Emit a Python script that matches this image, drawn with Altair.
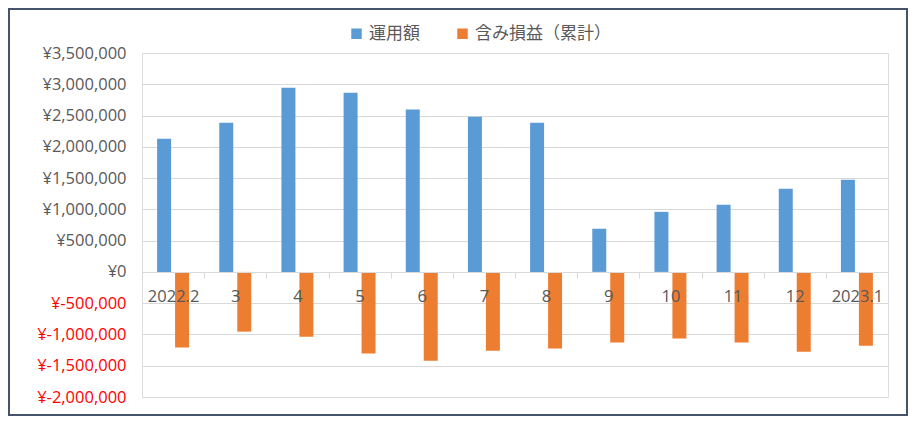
import altair as alt
import pandas as pd

categories = ["2022.2", "3", "4", "5", "6", "7", "8", "9", "10", "11", "12", "2023.1"]
series_names = ["運用額", "含み損益（累計）"]
unyou = [2130000, 2385000, 2945000, 2865000, 2595000, 2480000, 2385000, 690000, 960000, 1075000, 1330000, 1475000]
fukumi = [-1210000, -955000, -1035000, -1305000, -1420000, -1260000, -1225000, -1130000, -1065000, -1130000, -1275000, -1180000]
y_ticks = [-2000000, -1500000, -1000000, -500000, 0, 500000, 1000000, 1500000, 2000000, 2500000, 3000000, 3500000]
colors = ["#5B9BD5", "#ED7D31"]

rows = []
for c, a, b in zip(categories, unyou, fukumi):
    rows.append({"month": c, "series": series_names[0], "value": a})
    rows.append({"month": c, "series": series_names[1], "value": b})
df = pd.DataFrame(rows)

W, H = 746, 344
PL, PT, PR, PB = 134, 45, 20, 19

bars = alt.Chart(df).mark_bar().encode(
    x=alt.X("month:N", sort=categories,
            scale=alt.Scale(paddingInner=0, paddingOuter=0),
            axis=alt.Axis(title=None, labelAngle=0, tickBand="extent", offset=-125,
                          tickSize=6, tickColor="#d9d9d9", domainColor="#d9d9d9",
                          labelColor="#595959", labelFontSize=16.5, labelFont="Open Sans",
                          labelPadding=10, grid=False, zindex=1)),
    xOffset=alt.XOffset("series:N", sort=series_names,
                        scale=alt.Scale(paddingInner=0.222, paddingOuter=0.84)),
    y=alt.Y("value:Q",
            scale=alt.Scale(domain=[-2000000, 3500000], nice=False, zero=True),
            axis=alt.Axis(title=None, values=y_ticks, domain=False, ticks=False, tickSize=0,
                          labelPadding=16, labelFontSize=16.5, labelFont="Open Sans",
                          labelColor=alt.expr("datum.value < 0 ? '#FF0000' : '#595959'"),
                          labelExpr="datum.value < 0 ? '¥-' + format(-datum.value, ',') : '¥' + format(datum.value, ',')",
                          gridColor="#d9d9d9", gridWidth=1)),
    color=alt.Color("series:N", sort=series_names,
                    scale=alt.Scale(domain=series_names, range=colors),
                    legend=alt.Legend(title=None, orient="none", legendX=206, legendY=-28,
                                      direction="horizontal", symbolType="square",
                                      symbolSize=110, symbolStrokeWidth=0,
                                      labelFontSize=17, labelFont="Noto Sans CJK JP",
                                      labelColor="#595959", labelOffset=4,
                                      columnPadding=34)),
)

frame = alt.Chart(alt.Data(values=[{"k": 1}])).mark_rect(
    fill="white", fillOpacity=0, stroke="#44546A", strokeWidth=2
).encode(
    x=alt.value(-PL + 1), x2=alt.value(W + PR - 1),
    y=alt.value(-PT + 1), y2=alt.value(H + PB - 1),
)

chart = alt.layer(bars, frame).properties(
    width=W, height=H,
    autosize=alt.AutoSizeParams(type="none"),
    padding={"left": PL, "top": PT, "right": PR, "bottom": PB},
).configure_view(strokeWidth=0).configure(background="white")

chart.save("out.html", embed_options={"renderer": "svg", "actions": False})
